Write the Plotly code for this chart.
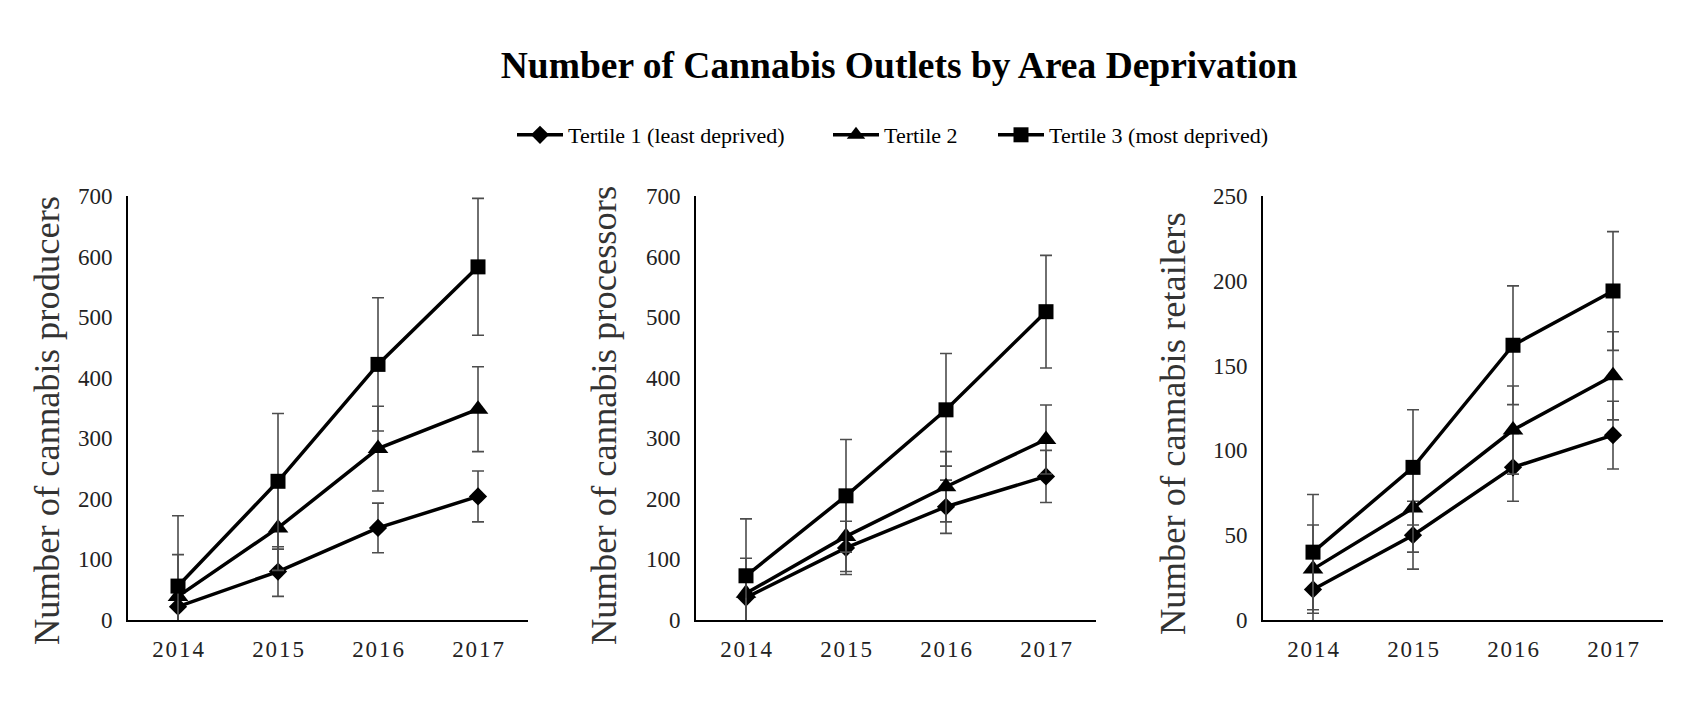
import plotly.graph_objects as go

OFF = 8                      # page body margin
W, H = 1695 - 2 * OFF, 710 - 2 * OFF

years = ["2014", "2015", "2016", "2017"]
tick_labels = ["\u200a".join(y) for y in years]

series_names = ["Tertile 1 (least deprived)", "Tertile 2", "Tertile 3 (most deprived)"]
symbols = ["diamond", "triangle-up", "square"]

producers_t1 = [22, 80, 152, 204]
producers_t2 = [39, 152, 283, 348]
producers_t3 = [56, 229, 422, 583]
producers_t1_err = [41, 41, 41, 42]
producers_t2_err = [69, 70, 70, 70]
producers_t3_err = [116, 112, 110, 113]

processors_t1 = [37, 119, 187, 237]
processors_t2 = [44, 138, 220, 298]
processors_t3 = [73, 205, 347, 509]
processors_t1_err = [43, 44, 44, 43]
processors_t2_err = [58, 58, 58, 57]
processors_t3_err = [94, 93, 93, 93]

retailers_t1 = [18, 50, 90, 109]
retailers_t2 = [30, 66, 112, 144]
retailers_t3 = [40, 90, 162, 194]
retailers_t1_err = [20, 20, 20, 20]
retailers_t2_err = [26, 26, 26, 26]
retailers_t3_err = [34, 34, 35, 35]

panel_titles = ["Number of cannabis producers", "Number of cannabis processors", "Number of cannabis retailers"]
y_ranges = [[0, 700], [0, 700], [0, 250]]
y_dticks = [100, 100, 50]

panels = [
    ([producers_t1, producers_t2, producers_t3], [producers_t1_err, producers_t2_err, producers_t3_err]),
    ([processors_t1, processors_t2, processors_t3], [processors_t1_err, processors_t2_err, processors_t3_err]),
    ([retailers_t1, retailers_t2, retailers_t3], [retailers_t1_err, retailers_t2_err, retailers_t3_err]),
]

FONT = "Liberation Serif, Times New Roman, serif"
marker_sizes = [14, 18, 15]


def px(x):
    return (x - OFF) / W


def py(y):
    return 1 - (y - OFF) / H


# page-pixel layout of the three plot areas
x_px = [(128, 528), (696, 1096), (1263, 1663)]
y_px = (196, 620)
ytitle_px = [(46, 421), (603, 416), (1172, 424)]

fig = go.Figure()
legends = ["legend", "legend2", "legend3"]
for p, (vals, errs) in enumerate(panels):
    xa = "x" if p == 0 else f"x{p+1}"
    ya = "y" if p == 0 else f"y{p+1}"
    for s in range(3):
        fig.add_trace(go.Scatter(
            x=years, y=vals[s], name=series_names[s],
            mode="lines+markers",
            line=dict(color="black", width=3.5),
            marker=dict(symbol=symbols[s], size=marker_sizes[s], color="black"),
            error_y=dict(type="data", array=errs[s], visible=True,
                         color="#4d4d4d", thickness=1.6, width=6),
            xaxis=xa, yaxis=ya,
            showlegend=(p == 0), legend=legends[s],
        ))

layout = dict(
    width=W, height=H,
    margin=dict(l=0, r=0, t=0, b=0, autoexpand=False),
    paper_bgcolor="white", plot_bgcolor="white",
    font=dict(family=FONT, color="#222222"),
    title=dict(text="<b>Number of Cannabis Outlets by Area Deprivation</b>",
               x=px(899), xanchor="center", y=py(65), yanchor="middle",
               yref="container", xref="container",
               font=dict(family=FONT, size=37.5, color="black")),
    annotations=[],
)

ITEMW = 46
legend_text_x = [568, 884, 1049]
for s, lg in enumerate(legends):
    layout[lg] = dict(orientation="h", x=px(legend_text_x[s] - (40 + ITEMW - 30)), xanchor="left",
                      y=py(135), yanchor="middle",
                      font=dict(family=FONT, size=22, color="black"),
                      bgcolor="rgba(0,0,0,0)", itemwidth=ITEMW)

for p in range(3):
    sx = "" if p == 0 else str(p + 1)
    layout[f"xaxis{sx}"] = dict(
        domain=[px(x_px[p][0]), px(x_px[p][1])], anchor=f"y{sx}",
        type="category", range=[-0.5, 3.5], automargin=False,
        tickmode="array", tickvals=years, ticktext=tick_labels,
        showline=True, linecolor="black", linewidth=2, ticks="",
        showgrid=False, zeroline=False,
        tickfont=dict(family=FONT, size=23, color="#222222"),
        ticklabelstandoff=7,
    )
    layout[f"yaxis{sx}"] = dict(
        domain=[py(y_px[1]), py(y_px[0])], anchor=f"x{sx}",
        range=y_ranges[p], dtick=y_dticks[p], tick0=0, automargin=False,
        showline=True, linecolor="black", linewidth=2, ticks="",
        showgrid=False, zeroline=False,
        tickfont=dict(family=FONT, size=23, color="#222222"),
        ticklabelstandoff=9,
    )
    layout["annotations"].append(dict(
        text=panel_titles[p], xref="paper", yref="paper",
        x=px(ytitle_px[p][0]), y=py(ytitle_px[p][1]),
        xanchor="center", yanchor="middle", textangle=-90, showarrow=False,
        font=dict(family=FONT, size=36.5, color="#333333"),
    ))

fig.update_layout(**layout)
fig.write_html("out.html")
